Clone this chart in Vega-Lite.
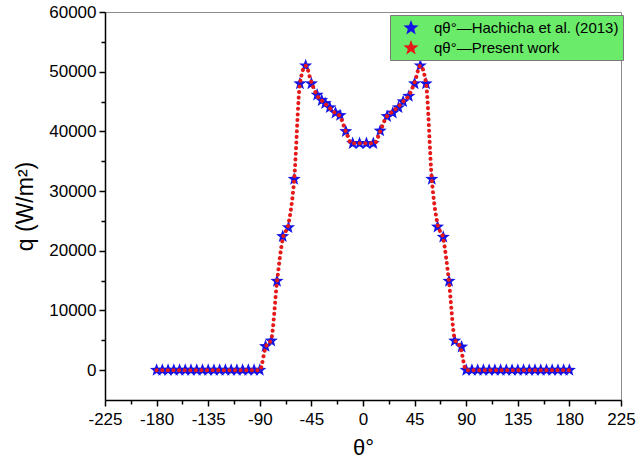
{
  "$schema": "https://vega.github.io/schema/vega-lite/v6.json",
  "autosize": "none",
  "width": 516,
  "height": 388,
  "padding": {"left": 105, "top": 12, "right": 19, "bottom": 69},
  "background": "white",
  "config": {
    "view": {"stroke": "#8c8c8c", "strokeWidth": 1},
    "axis": {
      "labelFont": "Liberation Sans",
      "labelFontSize": 17,
      "labelColor": "black",
      "labelFlush": false,
      "labelOverlap": false,
      "titleFont": "Liberation Sans",
      "titleFontWeight": "normal",
      "titleFontSize": 22,
      "titleColor": "black",
      "domainColor": "black",
      "domainWidth": 1.5,
      "tickColor": "black",
      "tickWidth": 1.5,
      "grid": false
    },
    "legend": {
      "labelFont": "Liberation Sans",
      "labelFontSize": 15,
      "labelColor": "black",
      "labelLimit": 300
    }
  },
  "resolve": {"axis": {"x": "independent", "y": "independent"}},
  "layer": [
    {
      "data": {"values": [
        {"theta": -180, "q": 0, "series": "Hachicha"}, {"theta": -175, "q": 0, "series": "Hachicha"}, {"theta": -170, "q": 0, "series": "Hachicha"},
        {"theta": -165, "q": 0, "series": "Hachicha"}, {"theta": -160, "q": 0, "series": "Hachicha"}, {"theta": -155, "q": 0, "series": "Hachicha"},
        {"theta": -150, "q": 0, "series": "Hachicha"}, {"theta": -145, "q": 0, "series": "Hachicha"}, {"theta": -140, "q": 0, "series": "Hachicha"},
        {"theta": -135, "q": 0, "series": "Hachicha"}, {"theta": -130, "q": 0, "series": "Hachicha"}, {"theta": -125, "q": 0, "series": "Hachicha"},
        {"theta": -120, "q": 0, "series": "Hachicha"}, {"theta": -115, "q": 0, "series": "Hachicha"}, {"theta": -110, "q": 0, "series": "Hachicha"},
        {"theta": -105, "q": 0, "series": "Hachicha"}, {"theta": -100, "q": 0, "series": "Hachicha"}, {"theta": -95, "q": 0, "series": "Hachicha"},
        {"theta": -90, "q": 0, "series": "Hachicha"},
        {"theta": -85, "q": 4000, "series": "Hachicha"}, {"theta": -80, "q": 4900, "series": "Hachicha"}, {"theta": -75, "q": 14900, "series": "Hachicha"},
        {"theta": -70, "q": 22400, "series": "Hachicha"}, {"theta": -65, "q": 23900, "series": "Hachicha"}, {"theta": -60, "q": 32000, "series": "Hachicha"},
        {"theta": -55, "q": 48000, "series": "Hachicha"}, {"theta": -50, "q": 51000, "series": "Hachicha"}, {"theta": -45, "q": 48000, "series": "Hachicha"},
        {"theta": -40, "q": 46100, "series": "Hachicha"}, {"theta": -36, "q": 45200, "series": "Hachicha"}, {"theta": -33, "q": 44700, "series": "Hachicha"},
        {"theta": -29, "q": 44000, "series": "Hachicha"}, {"theta": -24, "q": 43100, "series": "Hachicha"}, {"theta": -20, "q": 42700, "series": "Hachicha"},
        {"theta": -15, "q": 40000, "series": "Hachicha"}, {"theta": -9, "q": 38000, "series": "Hachicha"}, {"theta": -3, "q": 38000, "series": "Hachicha"},
        {"theta": 3, "q": 38000, "series": "Hachicha"}, {"theta": 9, "q": 38000, "series": "Hachicha"}, {"theta": 15, "q": 40100, "series": "Hachicha"},
        {"theta": 21, "q": 42500, "series": "Hachicha"}, {"theta": 26, "q": 43100, "series": "Hachicha"}, {"theta": 31, "q": 44000, "series": "Hachicha"},
        {"theta": 35, "q": 45000, "series": "Hachicha"}, {"theta": 40, "q": 45900, "series": "Hachicha"}, {"theta": 45, "q": 48000, "series": "Hachicha"},
        {"theta": 50, "q": 51000, "series": "Hachicha"}, {"theta": 55, "q": 48000, "series": "Hachicha"}, {"theta": 60, "q": 32000, "series": "Hachicha"},
        {"theta": 65, "q": 24000, "series": "Hachicha"}, {"theta": 70, "q": 22300, "series": "Hachicha"}, {"theta": 75, "q": 14900, "series": "Hachicha"},
        {"theta": 80, "q": 4900, "series": "Hachicha"}, {"theta": 86, "q": 3900, "series": "Hachicha"},
        {"theta": 90, "q": 0, "series": "Hachicha"}, {"theta": 95, "q": 0, "series": "Hachicha"}, {"theta": 100, "q": 0, "series": "Hachicha"},
        {"theta": 105, "q": 0, "series": "Hachicha"}, {"theta": 110, "q": 0, "series": "Hachicha"}, {"theta": 115, "q": 0, "series": "Hachicha"},
        {"theta": 120, "q": 0, "series": "Hachicha"}, {"theta": 125, "q": 0, "series": "Hachicha"}, {"theta": 130, "q": 0, "series": "Hachicha"},
        {"theta": 135, "q": 0, "series": "Hachicha"}, {"theta": 140, "q": 0, "series": "Hachicha"}, {"theta": 145, "q": 0, "series": "Hachicha"},
        {"theta": 150, "q": 0, "series": "Hachicha"}, {"theta": 155, "q": 0, "series": "Hachicha"}, {"theta": 160, "q": 0, "series": "Hachicha"},
        {"theta": 165, "q": 0, "series": "Hachicha"}, {"theta": 170, "q": 0, "series": "Hachicha"}, {"theta": 175, "q": 0, "series": "Hachicha"},
        {"theta": 180, "q": 0, "series": "Hachicha"}
      ]},
      "mark": {
        "type": "point",
        "shape": "M0,-1L0.247,-0.34L0.951,-0.309L0.399,0.13L0.588,0.809L0,0.42L-0.588,0.809L-0.399,0.13L-0.951,-0.309L-0.247,-0.34Z",
        "filled": true,
        "opacity": 1,
        "size": 190
      },
      "encoding": {
        "x": {
          "field": "theta", "type": "quantitative",
          "scale": {"domain": [-225, 225], "nice": false, "zero": false},
          "axis": {
            "orient": "bottom",
            "values": [-225, -180, -135, -90, -45, 0, 45, 90, 135, 180, 225],
            "labelExpr": "'' + datum.value",
            "tickSize": 6, "labelPadding": 5,
            "title": "θ°", "titlePadding": 10
          }
        },
        "y": {
          "field": "q", "type": "quantitative",
          "scale": {"domain": [-5000, 60000], "nice": false, "zero": false},
          "axis": {
            "orient": "left",
            "values": [0, 10000, 20000, 30000, 40000, 50000, 60000],
            "labelExpr": "'' + datum.value",
            "tickSize": 6, "labelPadding": 3,
            "title": "q (W/m²)", "titleFontSize": 23, "titlePadding": 11
          }
        },
        "color": {
          "field": "series", "type": "nominal",
          "scale": {"domain": ["Hachicha", "Present"], "range": ["#1414e6", "#e61919"]},
          "legend": {
            "title": null,
            "orient": "none",
            "legendX": 285,
            "legendY": 3,
            "fillColor": "#6aeb6a",
            "strokeColor": "#7a7a7a",
            "padding": 4,
            "rowPadding": 3,
            "symbolSize": 256,
            "symbolOffset": 8,
            "labelOffset": 14,
            "labelExpr": "datum.value === 'Hachicha' ? 'qθ°—Hachicha et al. (2013)' : 'qθ°—Present work'",
            "encode": {
              "symbols": {
                "shape": {"signal": "datum.value === 'Present' ? 'stroke' : 'M0,-1L0.247,-0.34L0.951,-0.309L0.399,0.13L0.588,0.809L0,0.42L-0.588,0.809L-0.399,0.13L-0.951,-0.309L-0.247,-0.34Z'"},
                "size": {"signal": "datum.value === 'Present' ? 1296 : 190"},
                "fill": {"signal": "datum.value === 'Present' ? 'transparent' : '#1414e6'"},
                "stroke": {"signal": "datum.value === 'Present' ? '#e61919' : '#1414e6'"},
                "strokeDash": {"signal": "datum.value === 'Present' ? [0.1, 5.5] : [1, 0]"},
                "strokeCap": {"value": "round"},
                "strokeWidth": {"signal": "datum.value === 'Present' ? 4 : 0"},
                "opacity": {"value": 1}
              }
            }
          }
        }
      }
    },
    {
      "data": {"values": [
        {"theta": -180, "q": 0}, {"theta": -90, "q": 0},
        {"theta": -85, "q": 3800}, {"theta": -80, "q": 5200}, {"theta": -75, "q": 14800},
        {"theta": -70, "q": 22000}, {"theta": -65, "q": 24500}, {"theta": -60, "q": 32000},
        {"theta": -55, "q": 48000}, {"theta": -50, "q": 51000}, {"theta": -45, "q": 48200},
        {"theta": -40, "q": 46000}, {"theta": -35, "q": 45000}, {"theta": -30, "q": 44100},
        {"theta": -25, "q": 43200}, {"theta": -20, "q": 42500}, {"theta": -15, "q": 40000},
        {"theta": -10, "q": 38000}, {"theta": -5, "q": 38000}, {"theta": 0, "q": 38000},
        {"theta": 5, "q": 38000}, {"theta": 10, "q": 38000}, {"theta": 15, "q": 40000},
        {"theta": 20, "q": 42300}, {"theta": 25, "q": 43200}, {"theta": 30, "q": 44000},
        {"theta": 35, "q": 45000}, {"theta": 40, "q": 46000}, {"theta": 45, "q": 48200},
        {"theta": 50, "q": 51000}, {"theta": 55, "q": 48000}, {"theta": 60, "q": 32000},
        {"theta": 65, "q": 24500}, {"theta": 70, "q": 22000}, {"theta": 75, "q": 14800},
        {"theta": 80, "q": 5200}, {"theta": 85, "q": 3800}, {"theta": 90, "q": 0},
        {"theta": 180, "q": 0}
      ]},
      "mark": {
        "type": "line",
        "color": "#e61919",
        "strokeWidth": 4,
        "strokeDash": [0.1, 5.5],
        "strokeCap": "round",
        "interpolate": "monotone"
      },
      "encoding": {
        "x": {
          "field": "theta", "type": "quantitative",
          "axis": {
            "orient": "bottom",
            "values": [-202.5, -157.5, -112.5, -67.5, -22.5, 22.5, 67.5, 112.5, 157.5, 202.5],
            "tickSize": 4, "labels": false, "domain": false, "title": null
          }
        },
        "y": {
          "field": "q", "type": "quantitative",
          "axis": {
            "orient": "left",
            "values": [5000, 15000, 25000, 35000, 45000, 55000],
            "tickSize": 4, "labels": false, "domain": false, "title": null
          }
        }
      }
    }
  ]
}
